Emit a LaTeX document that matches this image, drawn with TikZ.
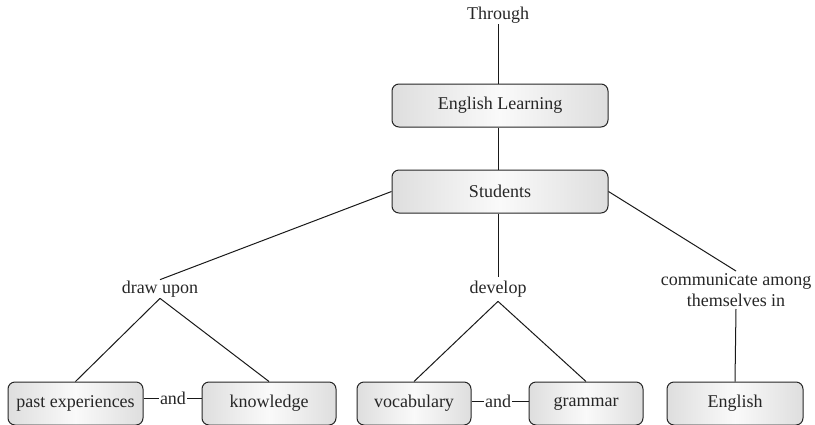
\documentclass[tikz,border=0pt]{standalone}
\usepackage{fontspec}
\setmainfont{Liberation Serif}
\begin{document}
\begin{tikzpicture}[x=1pt,y=-1pt,
  every node/.style={font=\fontsize{18}{21.5}\selectfont, text=black!85},
  box/.style={draw=black!85, line width=1pt, rounded corners=7pt,
    left color=black!13, right color=black!13, middle color=black!2,
    minimum height=43pt, inner sep=0pt, anchor=center},
  lbl/.style={inner sep=1pt, align=center},
  conn/.style={draw=black!90, line width=1pt}]
\useasboundingbox (0,0) rectangle (815,424);
\begin{scope}
\clip (0,0) rectangle (815,424);
\node[lbl] (th) at (498,15) {Through};
\node[box, minimum width=216pt] (el) at (500,105.5) {English Learning};
\node[box, minimum width=216pt] (st) at (500,191.5) {Students};
\node[lbl] (du) at (160,289) {draw upon};
\node[lbl, inner sep=4pt] (dv) at (498,289) {develop};
\node[lbl, inner sep=2pt] (cm) at (736,290) {communicate among\\themselves in};
\node[box, minimum width=135pt] (pe) at (75.5,403.5) {past experiences};
\node[box, minimum width=134pt] (kn) at (269,403.5) {knowledge};
\node[box, minimum width=114pt] (vo) at (414,403.5) {vocabulary};
\node[box, minimum width=114pt] (gr) at (586,403.5) {grammar};
\node[box, minimum width=136pt] (en) at (735,403.5) {English};
\node[lbl] (a1) at (173,398) {and};
\node[lbl] (a2) at (498,401) {and};
\end{scope}
\draw[conn] (th.south -| 498,0) -- (el.north -| 498,0);
\draw[conn] (el.south -| 498,0) -- (st.north -| 498,0);
\draw[conn] (st.west) -- (du.north);
\draw[conn] (st.south -| 498,0) -- (dv.north);
\draw[conn] (st.east) -- (cm.north);
\draw[conn] (du.south) -- (pe.north);
\draw[conn] (du.south) -- (kn.north);
\draw[conn] (dv.south) -- (vo.north);
\draw[conn] (dv.south) -- (gr.north);
\draw[conn] (cm.south) -- (en.north);
\draw[conn] (a1.west -| pe.east) -- (a1.west);
\draw[conn] (a1.east) -- (a1.east -| kn.west);
\draw[conn] (a2.west -| vo.east) -- (a2.west);
\draw[conn] (a2.east) -- (a2.east -| gr.west);
\end{tikzpicture}
\end{document}
